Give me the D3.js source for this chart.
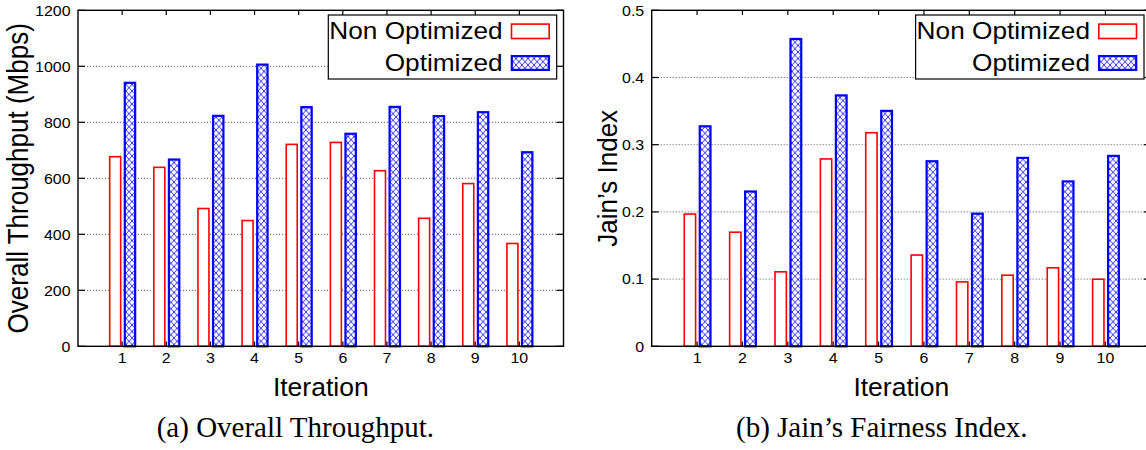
<!DOCTYPE html>
<html>
<head>
<meta charset="utf-8">
<script src="https://cdn.jsdelivr.net/npm/d3@7"></script>
<style>
  html, body { margin: 0; padding: 0; background: #fff; }
  svg { display: block; }
</style>
</head>
<body>
<script>
// ---- data ----
const iterations = [1, 2, 3, 4, 5, 6, 7, 8, 9, 10];
const throughputNonOpt = [680, 642, 495, 452, 724, 731, 630, 460, 584, 370];
const throughputOpt    = [945, 671, 827, 1010, 858, 763, 859, 826, 840, 697];
const fairnessNonOpt   = [0.198, 0.171, 0.112, 0.280, 0.319, 0.137, 0.097, 0.107, 0.118, 0.101];
const fairnessOpt      = [0.329, 0.232, 0.459, 0.375, 0.352, 0.277, 0.199, 0.282, 0.247, 0.285];
const throughputTicks  = [0, 200, 400, 600, 800, 1000, 1200];
const fairnessTicks    = [0, 0.1, 0.2, 0.3, 0.4, 0.5];
const seriesNames      = ["Non Optimized", "Optimized"];
const xLabel = "Iteration";
const panelTitles = ["Overall Throughput (Mbps)", "Jain\u2019s Index"];
const captions = ["(a) Overall Throughput.", "(b) Jain\u2019s Fairness Index."];

const W = 1146, H = 450;
const SANS = "'Liberation Sans', Arial, Helvetica, sans-serif";
const SERIF = "'Liberation Serif', 'Times New Roman', serif";

const svg = d3.select("body").append("svg").attr("width", W).attr("height", H);
svg.append("rect").attr("width", W).attr("height", H).attr("fill", "#fff");

const defs = svg.append("defs");
const pat = defs.append("pattern").attr("id", "xhatch")
  .attr("patternUnits", "userSpaceOnUse").attr("width", 6).attr("height", 6.5);
pat.append("rect").attr("width", 6).attr("height", 6.5).attr("fill", "#fff");
pat.append("path").attr("d", "M0,0L6,6.5M6,0L0,6.5").attr("stroke", "#0000ff")
  .attr("stroke-width", 0.8).attr("fill", "none");

function addText(parent, x, y, str, o) {
  const g = parent.append("g")
    .attr("transform", `translate(${x},${y}) scale(${o.sx || 1},1)` + (o.rot ? ` rotate(${o.rot})` : ""));
  return g.append("text").attr("x", 0).attr("y", 0)
    .attr("font-family", o.family || SANS)
    .attr("font-size", o.size)
    .attr("text-anchor", o.anchor || "start")
    .attr("dy", o.dy || 0)
    .attr("fill", "#000")
    .text(str);
}

function panel(cfg) {
  const g = svg.append("g");
  const x = d3.scaleLinear().domain([0, 11]).range([cfg.x0, cfg.x1]);
  const y = d3.scaleLinear().domain([0, cfg.ymax]).range([cfg.yBot, cfg.yTop]);

  // grid
  g.append("g").selectAll("line").data(cfg.ticks.filter(t => t > 0 && t < cfg.ymax)).join("line")
    .attr("x1", cfg.x0).attr("x2", cfg.x1)
    .attr("y1", d => y(d)).attr("y2", d => y(d))
    .attr("stroke", "#555").attr("stroke-width", 1).attr("stroke-dasharray", "1,2");

  // bars
  const redSW = 1.6, blueSW = 2.2;
  g.append("g").selectAll("rect").data(iterations).join("rect")
    .attr("x", (d) => x(d - 0.30) + redSW / 2)
    .attr("width", (d) => x(d - 0.015) - x(d - 0.30) - redSW)
    .attr("y", (d, i) => y(cfg.nonOpt[i]) + redSW / 2)
    .attr("height", (d, i) => cfg.yBot - y(cfg.nonOpt[i]) - redSW / 2)
    .attr("fill", "#fff").attr("stroke", "#ff0000").attr("stroke-width", redSW);
  g.append("g").selectAll("rect").data(iterations).join("rect")
    .attr("x", (d) => x(d + 0.035) + blueSW / 2)
    .attr("width", (d) => x(d + 0.32) - x(d + 0.035) - blueSW)
    .attr("y", (d, i) => y(cfg.opt[i]) + blueSW / 2)
    .attr("height", (d, i) => cfg.yBot - y(cfg.opt[i]) - blueSW / 2)
    .attr("fill", "url(#xhatch)").attr("stroke", "#0000ff").attr("stroke-width", blueSW);

  // frame
  g.append("rect").attr("x", cfg.x0).attr("y", cfg.yTop)
    .attr("width", cfg.x1 - cfg.x0).attr("height", cfg.yBot - cfg.yTop)
    .attr("fill", "none").attr("stroke", "#000").attr("stroke-width", 1.4);

  // ticks (inward, mirrored)
  const tk = g.append("g").attr("stroke", "#000").attr("stroke-width", 1.2);
  iterations.forEach(d => {
    tk.append("line").attr("x1", x(d)).attr("x2", x(d)).attr("y1", cfg.yBot).attr("y2", cfg.yBot - 4.7);
    tk.append("line").attr("x1", x(d)).attr("x2", x(d)).attr("y1", cfg.yTop).attr("y2", cfg.yTop + 4.7);
  });
  cfg.ticks.forEach(t => {
    tk.append("line").attr("x1", cfg.x0).attr("x2", cfg.x0 + 7).attr("y1", y(t)).attr("y2", y(t));
    tk.append("line").attr("x1", cfg.x1).attr("x2", cfg.x1 - 7).attr("y1", y(t)).attr("y2", y(t));
  });

  // tick labels
  cfg.ticks.forEach(t => {
    addText(g, cfg.x0 - 7.5, y(t), cfg.fmt(t), { size: 14.5, sx: 1.1, anchor: "end", dy: "0.36em" });
  });
  iterations.forEach(d => {
    addText(g, x(d), cfg.yBot + 16.7, String(d), { size: 14.5, sx: 1.1, anchor: "middle" });
  });

  // axis titles
  addText(g, (cfg.x0 + cfg.x1) / 2, 395.7, xLabel, { size: 25, sx: 1.06, anchor: "middle" });
  addText(g, cfg.ylabX, (cfg.yTop + cfg.yBot) / 2, cfg.title, { size: 26, sx: cfg.ylabSx, anchor: "middle", rot: -90 });

  // caption
  addText(g, cfg.capX, 437, cfg.caption, { size: 29, family: SERIF, anchor: "start" });

  // legend
  const lg = g.append("g");
  lg.append("rect").attr("x", cfg.x1 - 235.2).attr("y", 15)
    .attr("width", 228.4).attr("height", 64)
    .attr("fill", "#fff").attr("stroke", "#000").attr("stroke-width", 1.2);
  lg.append("rect").attr("x", cfg.x1 - 52.8 + 0.8).attr("y", 23.3 + 0.8)
    .attr("width", 39.3 - 1.6).attr("height", 16 - 1.6)
    .attr("fill", "#fff").attr("stroke", "#ff0000").attr("stroke-width", 1.6);
  lg.append("rect").attr("x", cfg.x1 - 52.8 + 1.1).attr("y", 55 + 1.1)
    .attr("width", 39.3 - 2.2).attr("height", 16 - 2.2)
    .attr("fill", "url(#xhatch)").attr("stroke", "#0000ff").attr("stroke-width", 2.2);
  addText(lg, cfg.x1 - 60.8, 39, seriesNames[0], { size: 23, sx: 1.14, anchor: "end" });
  addText(lg, cfg.x1 - 60.8, 70.5, seriesNames[1], { size: 23, sx: 1.14, anchor: "end" });
}

panel({
  x0: 78, x1: 563.5, yTop: 10.3, yBot: 346.3, ymax: 1200,
  ticks: throughputTicks, nonOpt: throughputNonOpt, opt: throughputOpt,
  fmt: d3.format("d"), title: panelTitles[0], ylabX: 28.3, ylabSx: 1.1,
  caption: captions[0], capX: 156.7
});
panel({
  x0: 651.7, x1: 1150.8, yTop: 10.3, yBot: 346.3, ymax: 0.5,
  ticks: fairnessTicks, nonOpt: fairnessNonOpt, opt: fairnessOpt,
  fmt: t => (t === 0 ? "0" : d3.format(".1f")(t)), title: panelTitles[1], ylabX: 617, ylabSx: 1.05,
  caption: captions[1], capX: 736
});
</script>
</body>
</html>
